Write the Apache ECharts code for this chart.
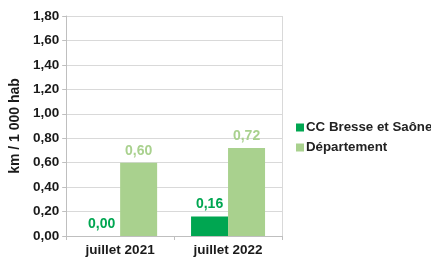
<!DOCTYPE html>
<html>
<head>
<meta charset="utf-8">
<script src="https://cdn.jsdelivr.net/npm/echarts@6.0.0/dist/echarts.min.js"></script>
<style>
  html, body { margin: 0; padding: 0; background: #fff; }
  #chart { width: 431px; height: 257px; }
</style>
</head>
<body>
<div id="chart"></div>
<script>
// --- Data ---
const categories = ['juillet 2021', 'juillet 2022'];
const ccValues = [0.00, 0.16];
const deptValues = [0.60, 0.72];
const seriesNames = ['CC Bresse et Saône', 'Département'];

const DARK = '#00a651';
const LIGHT = '#a9d18e';
const FONT = 'Liberation Sans';

const fmt = (v) => v.toFixed(2).replace('.', ',');

const chart = echarts.init(document.getElementById('chart'));

const labelOf = (color) => ({
    show: true,
    position: 'top',
    distance: 5,
    color: color,
    fontFamily: FONT,
    fontWeight: 'bold',
    fontSize: 14,
    formatter: (p) => fmt(p.value)
});

chart.setOption({
    animation: false,
    textStyle: { fontFamily: FONT },
    grid: { left: 59, right: 149, top: 16, bottom: 21 },
    legend: {
        orient: 'vertical',
        left: 291,
        top: 116,
        itemWidth: 8,
        itemHeight: 8,
        itemGap: 7,
        icon: 'rect',
        textStyle: { fontFamily: FONT, fontWeight: 'bold', fontSize: 13.3, color: '#222', padding: [0, 0, 0, -3] },
        data: seriesNames
    },
    xAxis: {
        type: 'category',
        data: categories,
        axisLine: { lineStyle: { color: '#bfbfbf' } },
        axisTick: { show: true, length: 4, lineStyle: { color: '#bfbfbf' } },
        axisLabel: { color: '#1a1a1a', fontWeight: 'bold', fontSize: 13.5, margin: 7 }
    },
    yAxis: {
        type: 'value',
        min: 0,
        max: 1.8,
        interval: 0.2,
        name: 'km / 1 000 hab',
        nameLocation: 'middle',
        nameGap: 42,
        nameTextStyle: { color: '#1a1a1a', fontWeight: 'bold', fontSize: 14 },
        axisLine: { show: true, lineStyle: { color: '#bfbfbf' } },
        axisTick: { show: true, length: 4, lineStyle: { color: '#bfbfbf' } },
        axisLabel: { color: '#1a1a1a', fontWeight: 'bold', fontSize: 13.5, margin: 7, formatter: (v) => fmt(v) },
        splitLine: { lineStyle: { color: '#d9d9d9' } }
    },
    series: [
        {
            name: seriesNames[0],
            type: 'bar',
            data: ccValues,
            barWidth: 37,
            barGap: '0%',
            itemStyle: { color: DARK },
            label: labelOf(DARK)
        },
        {
            name: seriesNames[1],
            type: 'bar',
            data: deptValues,
            barWidth: 37,
            barGap: '0%',
            itemStyle: { color: LIGHT },
            label: labelOf(LIGHT)
        }
    ],
    graphic: [
        { type: 'line', shape: { x1: 282.5, y1: 16, x2: 282.5, y2: 240 }, style: { stroke: '#d9d9d9', lineWidth: 1 } }
    ]
});
</script>
</body>
</html>
